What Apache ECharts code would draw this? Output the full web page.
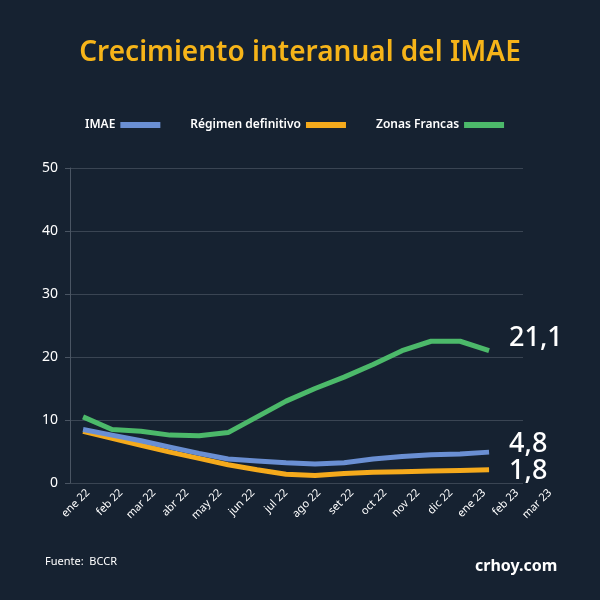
<!DOCTYPE html><html><head><meta charset="utf-8"><script src="https://cdn.jsdelivr.net/npm/echarts@6/dist/echarts.min.js"></script>
<style>body{margin:0;background:#162231}#c{width:600px;height:600px}</style></head><body><div id="c"></div><script>
const months=['ene 22','feb 22','mar 22','abr 22','may 22','jun 22','jul 22','ago 22','set 22','oct 22','nov 22','dic 22','ene 23','feb 23','mar 23'];
const imae=[8.5,7.6,6.7,5.7,4.7,3.8,3.5,3.2,3.0,3.2,3.8,4.2,4.5,4.6,4.9];
const regimen=[8.2,7.1,6.0,4.9,3.9,2.9,2.1,1.4,1.2,1.5,1.7,1.8,1.9,2.0,2.1];
const zonas=[10.5,8.5,8.2,7.6,7.5,8.0,10.5,13,15,16.8,18.8,21,22.5,22.5,21];
const endLabels={'IMAE':'4,8','Régimen definitivo':'1,8','Zonas Francas':'21,1'};
const mk=(name,arr,color,z,off)=>({name,type:'line',data:arr.map((v,i)=>[i,v]),showSymbol:false,z,
 lineStyle:{width:5,color},itemStyle:{color},
 endLabel:{show:true,formatter:()=>endLabels[name],color:'#fff',fontSize:27,fontWeight:500,distance:20,offset:off,fontFamily:'Noto Sans'}});
const ch=echarts.init(document.getElementById('c'));
ch.setOption({backgroundColor:'#162231',textStyle:{fontFamily:'Noto Sans'},
 title:[{text:'Crecimiento interanual del IMAE',left:'center',top:34,textStyle:{color:'#f6b419',fontSize:28,fontWeight:600}},
  {text:'Fuente:  BCCR',left:40,top:551,textStyle:{color:'#fff',fontSize:11,fontWeight:'normal'}},
  {text:'crhoy.com',left:470,top:553,textStyle:{color:'#fff',fontSize:16,fontWeight:'bold'}}],
 legend:{top:114,left:80,itemGap:30,align:'right',itemWidth:40,itemHeight:6,icon:'rect',textStyle:{color:'#fff',fontSize:12,fontWeight:600},data:['IMAE','Régimen definitivo','Zonas Francas']},
 grid:[{left:70,right:77,top:168,bottom:117},{left:88,right:50,top:168,bottom:117}],
 xAxis:[{type:'value',gridIndex:0,min:-0.45,max:15.17,show:false,axisLine:{onZero:false}},
  {type:'category',gridIndex:1,data:months,boundaryGap:false,axisLine:{show:false},axisTick:{show:false},
   axisLabel:{rotate:45,color:'#fff',fontSize:11,interval:0}}],
 yAxis:[{type:'value',gridIndex:0,min:0,max:50,interval:10,axisLine:{show:true,onZero:false,lineStyle:{color:'#4a5563'}},
   axisLabel:{color:'#fff',fontSize:14,margin:12},splitLine:{lineStyle:{color:'#3a4553'}}},
  {type:'value',gridIndex:1,show:false,min:0,max:50}],
 series:[mk('Zonas Francas',zonas,'#4cb96a',3,[0,-12]),mk('IMAE',imae,'#6a8fd3',2,[0,-8]),mk('Régimen definitivo',regimen,'#f5aa1c',1,[0,2])]});
</script></body></html>
